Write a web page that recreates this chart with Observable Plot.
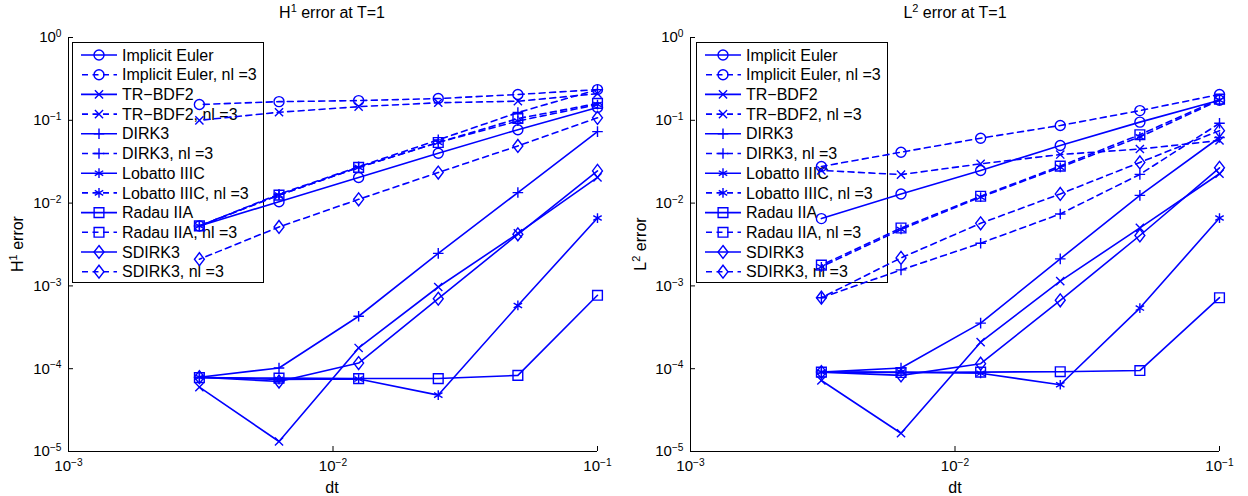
<!DOCTYPE html>
<html><head><meta charset="utf-8">
<script src="https://cdn.jsdelivr.net/npm/d3@7"></script>
<script src="https://cdn.jsdelivr.net/npm/@observablehq/plot@0.6"></script>
<style>
body{margin:0;background:#fff;font-family:"Liberation Sans",Arial,Helvetica,sans-serif;}
#wrap{position:relative;width:1248px;height:496px;overflow:hidden;}
.panel{position:absolute;top:0;width:624px;height:496px;}
.title,.xlab,.ylab{position:absolute;font-size:16px;color:#000;white-space:nowrap;line-height:1;}
.title sup,.ylab sup{font-size:11px;vertical-align:6px;line-height:0;}
</style>
</head><body><div id="wrap"></div>
<script>
// ---------------- data ----------------
const dt = [0.1, 0.05, 0.025, 0.0125, 0.00625, 0.003125];
const methods = ["Implicit Euler","Implicit Euler, nl =3","TR\u2212BDF2","TR\u2212BDF2, nl =3","DIRK3","DIRK3, nl =3","Lobatto IIIC","Lobatto IIIC, nl =3","Radau IIA","Radau IIA, nl =3","SDIRK3","SDIRK3, nl =3"];
const xTicks = [1e-3, 1e-2, 1e-1];
const xTickExp = ["\u22123","\u22122","\u22121"];
const yTicks = [1e-5, 1e-4, 1e-3, 1e-2, 1e-1, 1];
const yTickExp = ["\u22125","\u22124","\u22123","\u22122","\u22121","0"];

// H1 error at T=1 (values at dt above)
const h1ImplicitEuler   = [0.143, 0.077, 0.040, 0.0204, 0.0104, 0.0053];
const h1ImplicitEulerNl = [0.235, 0.205, 0.183, 0.173, 0.168, 0.155];
const h1TRBDF2          = [0.0204, 0.0043, 0.00097, 0.000178, 0.0000132, 0.000060];
const h1TRBDF2Nl        = [0.21, 0.17, 0.163, 0.146, 0.125, 0.100];
const h1DIRK3           = [0.073, 0.0134, 0.00247, 0.00043, 0.000102, 0.000079];
const h1DIRK3Nl         = [0.235, 0.124, 0.058, 0.0275, 0.0128, 0.0053];
const h1Lobatto         = [0.0066, 0.00058, 0.000048, 0.000075, 0.000074, 0.000079];
const h1LobattoNl       = [0.155, 0.098, 0.054, 0.027, 0.0125, 0.0053];
const h1Radau           = [0.00077, 0.000083, 0.000076, 0.000076, 0.000077, 0.000078];
const h1RadauNl         = [0.16, 0.105, 0.054, 0.027, 0.0125, 0.0053];
const h1SDIRK3          = [0.0245, 0.0042, 0.00070, 0.000117, 0.000070, 0.000079];
const h1SDIRK3Nl        = [0.107, 0.049, 0.0234, 0.0111, 0.00515, 0.0021];

// L2 error at T=1
const l2ImplicitEuler   = [0.175, 0.095, 0.0497, 0.0248, 0.0129, 0.0065];
const l2ImplicitEulerNl = [0.205, 0.131, 0.0866, 0.0608, 0.0412, 0.0277];
const l2TRBDF2          = [0.0226, 0.00503, 0.00114, 0.000209, 0.0000166, 0.000072];
const l2TRBDF2Nl        = [0.057, 0.045, 0.0386, 0.0298, 0.0221, 0.0248];
const l2DIRK3           = [0.062, 0.0124, 0.00212, 0.000355, 0.000102, 0.000091];
const l2DIRK3Nl         = [0.092, 0.0222, 0.0074, 0.00328, 0.00156, 0.00072];
const l2Lobatto         = [0.0066, 0.00054, 0.000064, 0.000088, 0.000091, 0.000091];
const l2LobattoNl       = [0.175, 0.063, 0.027, 0.0118, 0.0048, 0.0017];
const l2Radau           = [0.00072, 0.000095, 0.000092, 0.000091, 0.000090, 0.000091];
const l2RadauNl         = [0.18, 0.067, 0.028, 0.0121, 0.0050, 0.00178];
const l2SDIRK3          = [0.0267, 0.00406, 0.00067, 0.000115, 0.000083, 0.000091];
const l2SDIRK3Nl        = [0.075, 0.031, 0.0129, 0.0057, 0.00218, 0.00072];

const h1Series = [h1ImplicitEuler,h1ImplicitEulerNl,h1TRBDF2,h1TRBDF2Nl,h1DIRK3,h1DIRK3Nl,h1Lobatto,h1LobattoNl,h1Radau,h1RadauNl,h1SDIRK3,h1SDIRK3Nl];
const l2Series = [l2ImplicitEuler,l2ImplicitEulerNl,l2TRBDF2,l2TRBDF2Nl,l2DIRK3,l2DIRK3Nl,l2Lobatto,l2LobattoNl,l2Radau,l2RadauNl,l2SDIRK3,l2SDIRK3Nl];

// ---------------- styles ----------------
const BLUE = "#0000ff";
const diamondTall = {draw(ctx, size){ const w = Math.sqrt(size) * 0.5, h = w * 1.3; ctx.moveTo(0,-h); ctx.lineTo(w,0); ctx.lineTo(0,h); ctx.lineTo(-w,0); ctx.closePath(); }};
const d3Symbols = {circle: d3.symbolCircle, times: d3.symbolTimes, plus: d3.symbolPlus, asterisk: d3.symbolAsterisk, square2: d3.symbolSquare2};
function markerStyle(i){
  const k = Math.floor(i/2);
  return [
    {symbol:"circle", r:5},
    {symbol:"times", r:3.8},
    {symbol:"plus", r:3.5},
    {symbol:"asterisk", r:4.6},
    {symbol:"square2", r:6.2},
    {symbol:diamondTall, r:5.6}
  ][k];
}
const isDashed = i => i % 2 === 1;

function supify(svg){
  d3.select(svg).selectAll("text").each(function(){
    const t = this.textContent;
    const m = /^10\^(.*)$/.exec(t);
    if (m){
      const sel = d3.select(this);
      sel.text(null);
      sel.append("tspan").text("10");
      sel.append("tspan").attr("dy","-0.5em").attr("font-size","0.68em").text(m[1]);
    }
  });
}

function makePanel(series, left, marginLeft, marginRight){
  const rows = [];
  series.forEach((vals, i) => vals.forEach((v, j) => rows.push({m: i, dt: dt[j], err: v})));
  const marks = [
    Plot.ruleX([1e-3], {stroke:"#000", strokeWidth:1}),
    Plot.ruleY([1e-5], {stroke:"#000", strokeWidth:1}),
    Plot.axisX(xTicks, {anchor:"bottom", tickSize:-5, tickPadding:14, fontSize:15,
      tickFormat: d => "10^" + xTickExp[xTicks.indexOf(d)], label:null}),
    Plot.axisY(yTicks, {anchor:"left", tickSize:-5, tickPadding:12, fontSize:15,
      tickFormat: d => "10^" + yTickExp[yTicks.indexOf(d)], label:null})
  ];
  series.forEach((vals, i) => {
    const d = rows.filter(r => r.m === i);
    marks.push(Plot.line(d, {x:"dt", y:"err", stroke:BLUE, strokeWidth:1.6,
      strokeDasharray: isDashed(i) ? "6,4.5" : null}));
  });
  series.forEach((vals, i) => {
    const d = rows.filter(r => r.m === i);
    const st = markerStyle(i);
    marks.push(Plot.dot(d, {x:"dt", y:"err", symbol: st.symbol, r: st.r, stroke:BLUE, fill:"none", strokeWidth:1.4}));
  });
  const svg = Plot.plot({
    width:624, height:496, marginLeft, marginRight, marginTop:37, marginBottom:45,
    style:{background:"transparent", color:"#000", fontFamily:"'Liberation Sans', Arial, sans-serif"},
    x:{type:"log", domain:[1e-3, 1e-1]},
    y:{type:"log", domain:[1e-5, 1]},
    marks
  });
  supify(svg);
  const div = document.createElement("div");
  div.className = "panel";
  div.style.left = left + "px";
  div.appendChild(svg);
  return div;
}

function makeLegend(x0){
  const W = 191, H = 240;
  const svg = d3.create("svg").attr("width", W+2).attr("height", H+2)
    .style("position","absolute").style("left", (x0-1)+"px").style("top","42px")
    .style("overflow","visible");
  svg.append("rect").attr("x",0.5).attr("y",0.5).attr("width",W).attr("height",H)
    .attr("fill","none").attr("stroke","#000").attr("stroke-width",1);
  methods.forEach((name, i) => {
    const y = 13 + i*19.7;
    const st = markerStyle(i);
    svg.append("line").attr("x1",9).attr("x2",45).attr("y1",y).attr("y2",y)
      .attr("stroke",BLUE).attr("stroke-width",1.6)
      .attr("stroke-dasharray", isDashed(i) ? "6,4.5" : null)
      .attr("stroke-dashoffset", isDashed(i) ? -1 : null);
    const sym = typeof st.symbol === "string" ? d3Symbols[st.symbol] : st.symbol;
    svg.append("path").attr("transform",`translate(27,${y})`)
      .attr("d", d3.symbol(sym, Math.PI*st.r*st.r)())
      .attr("fill","none").attr("stroke",BLUE).attr("stroke-width",1.4);
    svg.append("text").attr("x",50).attr("y",y).attr("dy","0.35em")
      .attr("font-size",16).attr("fill","#000").text(name);
  });
  return svg.node();
}

const wrap = document.getElementById("wrap");
wrap.appendChild(makeLegend(73));
wrap.appendChild(makeLegend(697));
wrap.appendChild(makePanel(h1Series, 0, 68, 27));
wrap.appendChild(makePanel(l2Series, 624, 66, 29));

function addText(cls, html, style){
  const d = document.createElement("div"); d.className = cls; d.innerHTML = html;
  Object.assign(d.style, style); wrap.appendChild(d); return d;
}
addText("title", "H<sup>1</sup> error at T=1", {left:"332px", top:"5px", transform:"translateX(-50%)"});
addText("title", "L<sup>2</sup> error at T=1", {left:"955px", top:"5px", transform:"translateX(-50%)"});
addText("xlab", "dt", {left:"332px", top:"480px", transform:"translateX(-50%)"});
addText("xlab", "dt", {left:"955px", top:"480px", transform:"translateX(-50%)"});
addText("ylab", "H<sup>1</sup> error", {left:"18px", top:"244px", transform:"translate(-50%,-50%) rotate(-90deg)"});
addText("ylab", "L<sup>2</sup> error", {left:"641px", top:"244px", transform:"translate(-50%,-50%) rotate(-90deg)"});
</script>
</body></html>
